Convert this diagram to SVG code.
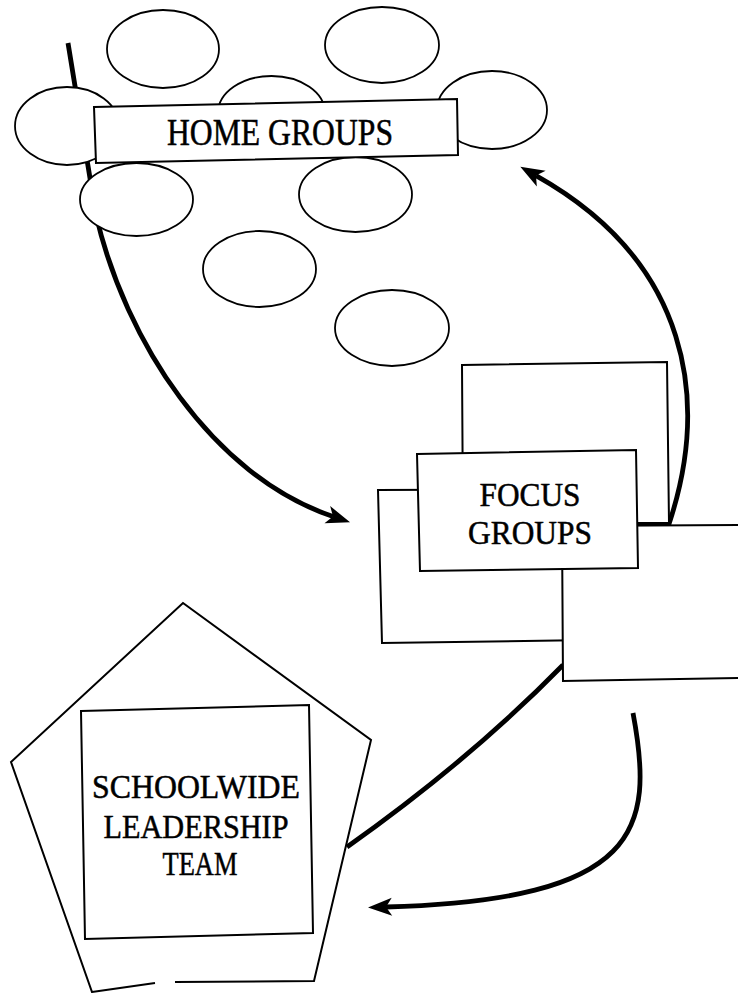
<svg xmlns="http://www.w3.org/2000/svg" width="738" height="993" viewBox="0 0 738 993">
<style>
.bg{fill:#fff}
.shape{fill:#fff;stroke:#000;stroke-width:2;stroke-linejoin:miter}
.oval{fill:#fff;stroke:#000;stroke-width:1.8}
.conn{fill:none;stroke:#000;stroke-width:4.8;stroke-linecap:butt}
.lbl{font-family:"Liberation Serif","Times New Roman",serif;fill:#000;stroke:#000;stroke-width:0.5;text-anchor:middle}
</style>
<defs>
<marker id="arr" viewBox="0 -10 26 20" refX="6" refY="0" markerWidth="26" markerHeight="20" markerUnits="userSpaceOnUse" orient="auto" overflow="visible">
<path d="M24,0 L0,-9 L6,0 L0,9 Z" fill="#000"/>
</marker>
</defs>
<rect class="bg" x="0" y="0" width="738" height="993"/>

<g id="connectors">
<path class="conn" d="M68,43 L96,215 C125,340 212,476 333,516.5" marker-end="url(#arr)"/>
<path class="conn" d="M638,525 L669,524 C710,400 690,262 536,175.6" marker-end="url(#arr)"/>
<path class="conn" d="M563,665 Q470,760 347,847"/>
<path class="conn" d="M633,713 C655,830 640,900 386,907" marker-end="url(#arr)"/>
</g>

<g id="home-groups-ovals">
<ellipse id="oval1" class="oval" cx="163" cy="49" rx="56" ry="39"/>
<ellipse id="oval2" class="oval" cx="382" cy="45" rx="57" ry="38"/>
<ellipse id="oval3" class="oval" cx="271.5" cy="113" rx="53.5" ry="37"/>
<ellipse id="oval4" class="oval" cx="67" cy="126" rx="52" ry="39"/>
<ellipse id="oval5" class="oval" cx="492" cy="110" rx="55" ry="39"/>
<ellipse id="oval6" class="oval" cx="136.5" cy="199.5" rx="56.5" ry="36.5"/>
<ellipse id="oval7" class="oval" cx="355.5" cy="194.5" rx="56.5" ry="37.5"/>
<ellipse id="oval8" class="oval" cx="259.5" cy="269" rx="56.5" ry="38"/>
<ellipse id="oval9" class="oval" cx="392" cy="328" rx="57" ry="38"/>
</g>

<g id="home-groups">
<polygon class="shape" points="94,107 457,99 458,155 96,163"/>
<text class="lbl" x="280" y="145" font-size="37" textLength="226" lengthAdjust="spacingAndGlyphs">HOME GROUPS</text>
</g>

<g id="focus-back">
<polygon class="shape" points="462,365 667,362 669,523 463,523"/>
</g>
<g id="focus-left">
<polygon class="shape" points="378,490 590,489 590,640 382,643"/>
</g>
<g id="focus-right">
<polygon class="shape" points="562,526 745,525 745,678 563,681"/>
</g>
<g id="focus-groups">
<polygon class="shape" points="417,454 636,450 638,568 420,571"/>
<text class="lbl" x="530" y="506" font-size="34" textLength="101" lengthAdjust="spacingAndGlyphs">FOCUS</text>
<text class="lbl" x="530" y="544" font-size="34" textLength="124" lengthAdjust="spacingAndGlyphs">GROUPS</text>
</g>

<g id="schoolwide-leadership-team">
<path class="shape" d="M155,983 L92,992 L11,762 L183,603 L371,740 L314,981 L175,982"/>
<polygon class="shape" points="81,711 309,705 313,933 85,939"/>
<text class="lbl" x="196" y="798" font-size="33" textLength="208" lengthAdjust="spacingAndGlyphs">SCHOOLWIDE</text>
<text class="lbl" x="196" y="838" font-size="33" textLength="185" lengthAdjust="spacingAndGlyphs">LEADERSHIP</text>
<text class="lbl" x="200" y="875" font-size="33" textLength="75" lengthAdjust="spacingAndGlyphs">TEAM</text>
</g>
</svg>
